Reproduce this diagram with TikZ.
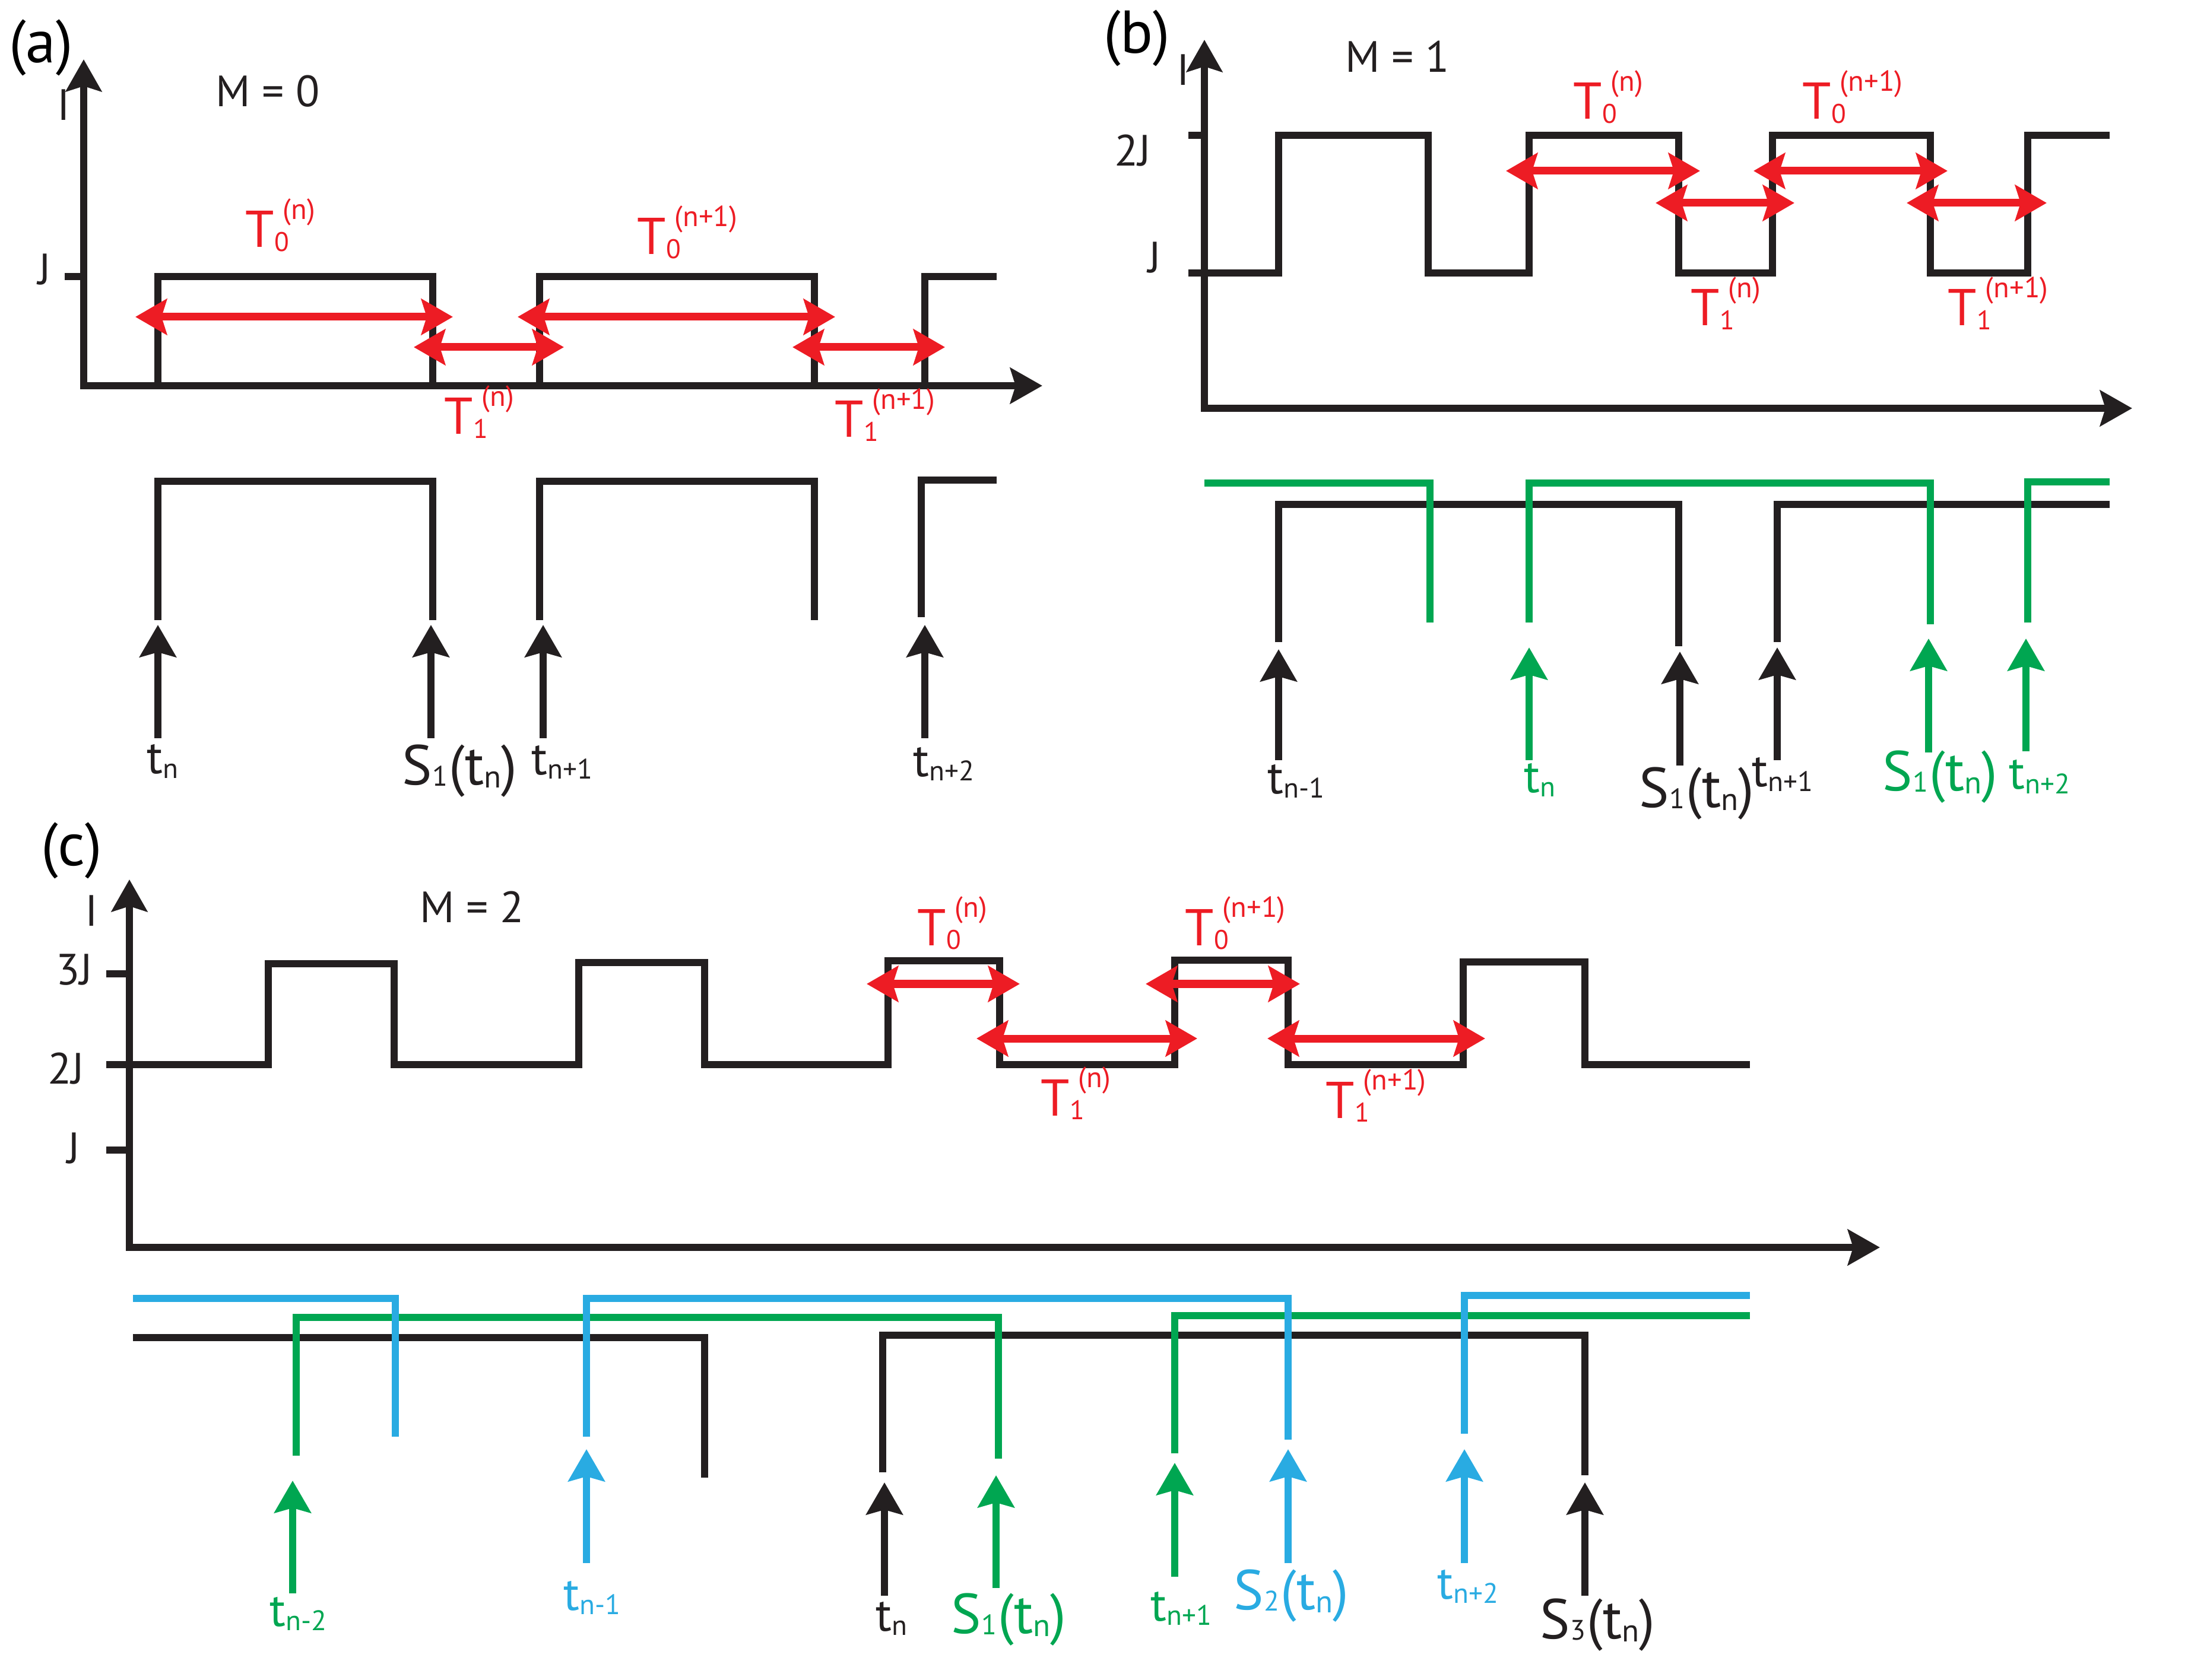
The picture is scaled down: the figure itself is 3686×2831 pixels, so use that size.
\documentclass[tikz,border=0pt]{standalone}
\usepackage{fontspec}
\setmainfont{PT Sans}
\usetikzlibrary{arrows.meta}
\definecolor{myred}{RGB}{237,28,36}
\definecolor{mygreen}{RGB}{0,166,81}
\definecolor{myblue}{RGB}{41,171,226}
\definecolor{myblack}{RGB}{35,31,32}
\newcommand{\lsub}[1]{\raisebox{-0.1em}{\scalebox{0.6}{#1}}}
\newcommand{\tsub}[1]{t\lsub{#1}}
\newcommand{\Tlab}[2]{T\rlap{\raisebox{-0.07em}{\scalebox{0.52}{#1}}}\kern0.17em\raisebox{0.55em}{\scalebox{0.56}{#2}}}
\newcommand{\Slab}[1]{S\raisebox{-0.03em}{\scalebox{0.5}{#1}}\kern0.03em(t\raisebox{-0.06em}{\scalebox{0.56}{n}})}
\tikzset{
  sig/.style={line width=0.12cm, draw=myblack, line join=miter},
  gsig/.style={line width=0.12cm, draw=mygreen, line join=miter},
  bsig/.style={line width=0.12cm, draw=myblue, line join=miter},
  axisl/.style={sig, {Stealth[length=0.54cm,width=0.6cm,inset=0.09cm]}-{Stealth[length=0.54cm,width=0.6cm,inset=0.09cm]}},
  upar/.style={line width=0.12cm, -{Stealth[length=0.54cm,width=0.61cm,inset=0.08cm]}},
  tarr/.style={draw=myred, line width=0.13cm, {Stealth[length=0.53cm,width=0.6cm,inset=0.09cm]}-{Stealth[length=0.53cm,width=0.6cm,inset=0.09cm]}},
  lab/.style={inner sep=0, anchor=base west},
  fT/.style={lab, text=myred, font=\fontsize{24.8pt}{30pt}\selectfont},
  ft/.style={lab, font=\fontsize{22.5pt}{27pt}\selectfont},
  fS/.style={lab, font=\fontsize{27pt}{32pt}\selectfont},
  fM/.style={inner sep=0, text=myblack, font=\fontsize{21pt}{25pt}\selectfont},
  fP/.style={inner sep=0, text=black, font=\fontsize{29pt}{34pt}\selectfont},
}
\begin{document}
\begin{tikzpicture}[x=0.01cm, y=-0.01cm]
\useasboundingbox (0,0) rectangle (3686,2831);
% ---------------- panel (a)
\node[fP] (pa) at (69,80) {(a)};
\draw[axisl] (141,100) -- (141,650) -- (1756,650);
\draw[sig] (109,466) -- (141,466);
\node[fM] (Ia) at (107,177) {I};
\node[fM] (Ja) at (75,454) {J};
\node[fM] (Ma) at (451,154) {M = 0};
\draw[sig] (266,650) -- (266,466) -- (729,466) -- (729,650);
\draw[sig] (909,650) -- (909,466) -- (1372,466) -- (1372,650);
\draw[sig] (1558,650) -- (1558,466) -- (1679,466);
\draw[tarr] (228,534) -- (763,534);
\draw[tarr] (872,534) -- (1407,534);
\draw[tarr] (697,585) -- (950,585);
\draw[tarr] (1335,585) -- (1592,585);
\node[fT] (a1) at (413,417) {\Tlab{0}{(n)}};
\node[fT] (a2) at (1073,429) {\Tlab{0}{(n+1)}};
\node[fT] (a3) at (748,732) {\Tlab{1}{(n)}};
\node[fT] (a4) at (1406,737) {\Tlab{1}{(n+1)}};
\draw[sig] (266,1045) -- (266,811) -- (729,811) -- (729,1045);
\draw[sig] (909,1045) -- (909,811) -- (1372,811) -- (1372,1045);
\draw[sig] (1552,1040) -- (1552,809) -- (1679,809);
\draw[upar, myblack] (266,1244) -- (266,1053);
\draw[upar, myblack] (726,1244) -- (726,1053);
\draw[upar, myblack] (915,1244) -- (915,1053);
\draw[upar, myblack] (1558,1244) -- (1558,1053);
\node[ft, text=myblack] (a5) at (247,1304) {\tsub{n}};
\node[fS, text=myblack] (a6) at (677,1322) {\Slab{1}};
\node[ft, text=myblack] (a7) at (895,1305) {\tsub{n+1}};
\node[ft, text=myblack] (a8) at (1538,1308) {\tsub{n+2}};
% ---------------- panel (b)
\node[fP] (pb) at (1915,64) {(b)};
\draw[axisl] (2029,67) -- (2029,688) -- (3592,688);
\draw[sig] (2002,228) -- (2029,228);
\draw[sig] (2002,460) -- (2029,460);
\node[fM] (Ib) at (1993,118) {I};
\node[fM] (Mb) at (2354,95) {M = 1};
\node[fM] (J2b) at (1908,254) {2J};
\node[fM] (Jb) at (1945,434) {J};
\draw[sig] (2002,460) -- (2154,460) -- (2154,228) -- (2406,228) -- (2406,460) -- (2576,460) -- (2576,228) -- (2828,228) -- (2828,460) -- (2986,460) -- (2986,228) -- (3252,228) -- (3252,460) -- (3416,460) -- (3416,228) -- (3554,228);
\draw[tarr] (2537,288) -- (2864,288);
\draw[tarr] (2954,288) -- (3281,288);
\draw[tarr] (2789,342) -- (3023,342);
\draw[tarr] (3212,342) -- (3448,342);
\node[fT] (b1) at (2650,201) {\Tlab{0}{(n)}};
\node[fT] (b2) at (3036,201) {\Tlab{0}{(n+1)}};
\node[fT] (b3) at (2848,549) {\Tlab{1}{(n)}};
\node[fT] (b4) at (3281,549) {\Tlab{1}{(n+1)}};
\draw[sig] (2154,1082) -- (2154,850) -- (2828,850) -- (2828,1089);
\draw[sig] (2994,1082) -- (2994,850) -- (3554,850);
\draw[gsig] (2029,814) -- (2409,814) -- (2409,1049);
\draw[gsig] (2576,1049) -- (2576,814) -- (3252,814) -- (3252,1052);
\draw[gsig] (3416,1049) -- (3416,812) -- (3554,812);
\draw[upar, myblack] (2154,1281) -- (2154,1094);
\draw[upar, mygreen] (2576,1281) -- (2576,1091);
\draw[upar, myblack] (2830,1290) -- (2830,1098);
\draw[upar, myblack] (2994,1281) -- (2994,1091);
\draw[upar, mygreen] (3249,1268) -- (3249,1076);
\draw[upar, mygreen] (3413,1266) -- (3413,1076);
\node[ft, text=myblack] (b5) at (2135,1337) {\tsub{n-1}};
\node[ft, text=mygreen] (b6) at (2567,1335) {\tsub{n}};
\node[fS, text=myblack] (b7) at (2761,1360) {\Slab{1}};
\node[ft, text=myblack] (b8) at (2951,1326) {\tsub{n+1}};
\node[fS, text=mygreen] (b9) at (3171,1332) {\Slab{1}};
\node[ft, text=mygreen] (b10) at (3384,1330) {\tsub{n+2}};
% ---------------- panel (c)
\node[fP] (pc) at (121,1433) {(c)};
\draw[axisl] (218,1482) -- (218,2102) -- (3167,2102);
\draw[sig] (179,1641) -- (218,1641);
\draw[sig] (179,1794) -- (218,1794);
\draw[sig] (179,1938) -- (218,1938);
\node[fM] (Ic) at (154,1535) {I};
\node[fM] (Mc) at (795,1528) {M = 2};
\node[fM] (J3c) at (125,1634) {3J};
\node[fM] (J2c) at (111,1801) {2J};
\node[fM] (Jc) at (124,1935) {J};
\draw[sig] (179,1794) -- (452,1794) -- (452,1624) -- (664,1624) -- (664,1794) -- (975,1794) -- (975,1622) -- (1187,1622) -- (1187,1794) -- (1496,1794) -- (1496,1619) -- (1684,1619) -- (1684,1794) -- (1979,1794) -- (1979,1618) -- (2170,1618) -- (2170,1794) -- (2465,1794) -- (2465,1621) -- (2670,1621) -- (2670,1794) -- (2948,1794);
\draw[tarr] (1460,1658) -- (1718,1658);
\draw[tarr] (1930,1658) -- (2190,1658);
\draw[tarr] (1645,1750) -- (2017,1750);
\draw[tarr] (2135,1750) -- (2502,1750);
\node[fT] (c1) at (1545,1593) {\Tlab{0}{(n)}};
\node[fT] (c2) at (1996,1593) {\Tlab{0}{(n+1)}};
\node[fT] (c3) at (1753,1880) {\Tlab{1}{(n)}};
\node[fT] (c4) at (2233,1884) {\Tlab{1}{(n+1)}};
\draw[sig] (224,2254) -- (1187,2254) -- (1187,2490);
\draw[sig] (1487,2481) -- (1487,2250) -- (2670,2250) -- (2670,2486);
\draw[gsig] (499,2453) -- (499,2220) -- (1682,2220) -- (1682,2458);
\draw[gsig] (1979,2449) -- (1979,2217) -- (2948,2217);
\draw[bsig] (224,2188) -- (666,2188) -- (666,2421);
\draw[bsig] (988,2421) -- (988,2188) -- (2170,2188) -- (2170,2426);
\draw[bsig] (2467,2416) -- (2467,2183) -- (2948,2183);
\draw[upar, mygreen] (493,2685) -- (493,2495);
\draw[upar, myblue] (988,2634) -- (988,2442);
\draw[upar, myblack] (1490,2689) -- (1490,2498);
\draw[upar, mygreen] (1678,2676) -- (1678,2486);
\draw[upar, mygreen] (1979,2657) -- (1979,2465);
\draw[upar, myblue] (2170,2634) -- (2170,2442);
\draw[upar, myblue] (2467,2634) -- (2467,2442);
\draw[upar, myblack] (2670,2689) -- (2670,2498);
\node[ft, text=mygreen] (c5) at (454,2740) {\tsub{n-2}};
\node[ft, text=myblue] (c6) at (949,2713) {\tsub{n-1}};
\node[ft, text=myblack] (c7) at (1475,2748) {\tsub{n}};
\node[fS, text=mygreen] (c8) at (1602,2752) {\Slab{1}};
\node[ft, text=mygreen] (c9) at (1938,2731) {\tsub{n+1}};
\node[fS, text=myblue] (c10) at (2078,2712) {\Slab{2}};
\node[ft, text=myblue] (c11) at (2421,2694) {\tsub{n+2}};
\node[fS, text=myblack] (c12) at (2594,2761) {\Slab{3}};
\end{tikzpicture}
\end{document}
